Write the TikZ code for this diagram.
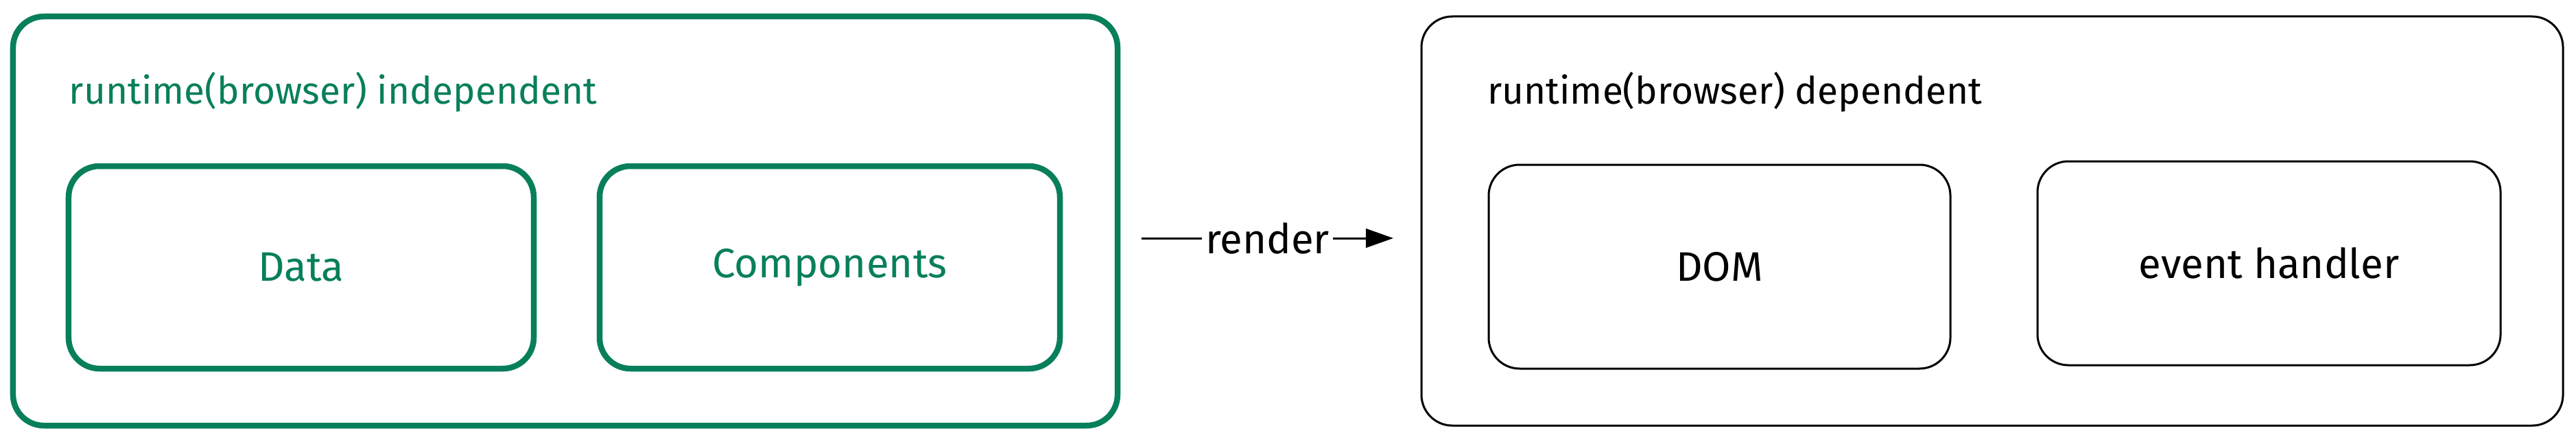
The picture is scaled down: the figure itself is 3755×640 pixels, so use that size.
\documentclass[tikz,border=0pt]{standalone}
\usepackage{fontspec}
\setmainfont{Fira Sans}
\usetikzlibrary{arrows.meta,calc}
\definecolor{exgreen}{HTML}{087F5B}
\begin{document}
\begin{tikzpicture}[x=0.2pt,y=-0.2pt,
  gbox/.style={draw=exgreen,line width=1.7pt,rounded corners=9pt,inner sep=0pt},
  kbox/.style={draw=black,line width=0.6pt,rounded corners=9pt,inner sep=0pt},
  gtext/.style={text=exgreen,font=\fontsize{12}{14}\selectfont,inner sep=0pt},
  ktext/.style={text=black,font=\fontsize{12}{14}\selectfont,inner sep=0pt},
  titlesize/.style={font=\fontsize{11}{13}\selectfont},
  flow/.style={draw=black,line width=0.6pt,-{Triangle[length=8pt,width=5.5pt]}}]
\useasboundingbox (0,0) rectangle (3755,640);
\fill[white] (0,0) rectangle (3755,640);
% left group
\node[gbox,minimum width=322pt,minimum height=119.2pt] (left) at (824,322) {};
\node[gtext,titlesize,anchor=west] (lefttitle) at (100,134) {runtime(browser) independent};
\node[gbox,minimum width=135.6pt,minimum height=59pt] (data) at (439,389.5) {};
\node[gtext] (datatext) at (data.center) {Data};
\node[gbox,minimum width=134.2pt,minimum height=59pt] (comp) at (1209.5,389.5) {};
\node[gtext] (comptext) at (comp.center) {Components};
% right group
\node[kbox,minimum width=332.8pt,minimum height=119.2pt] (right) at (2904,322) {};
\node[ktext,titlesize,anchor=west] (righttitle) at (2167,134) {runtime(browser) dependent};
\node[kbox,minimum width=134.6pt,minimum height=59.4pt] (dom) at (2506.5,388.5) {};
\node[ktext] (domtext) at (dom.center) {DOM};
\node[kbox,minimum width=135pt,minimum height=59.4pt] (evh) at (3307.5,383.5) {};
\node[ktext] (evhtext) at (evh.center) {event handler};
% arrow
\coordinate (as) at (1664,347);
\coordinate (ae) at (2031,347);
\draw[flow] (as) -- node[ktext,fill=white,inner sep=1pt] (rlabel) {render} (ae);
\end{tikzpicture}
\end{document}
